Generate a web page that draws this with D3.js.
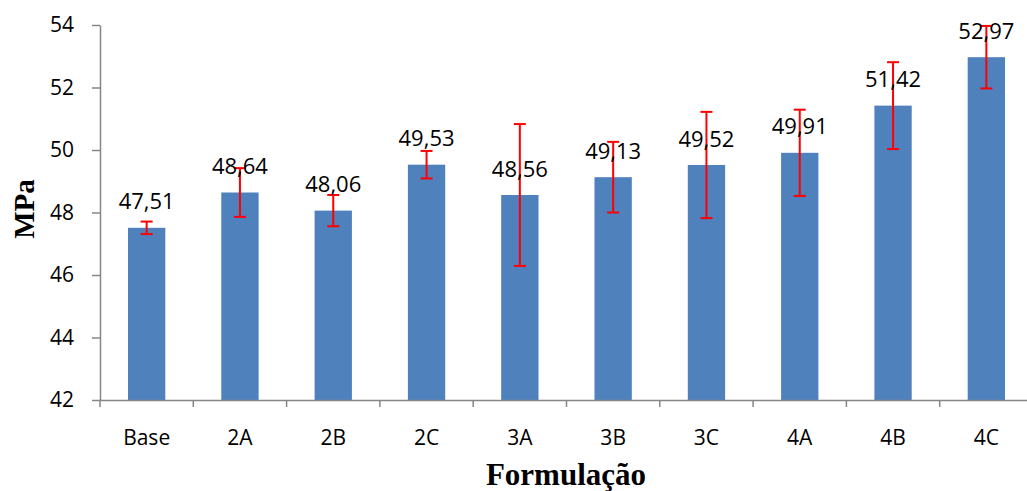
<!DOCTYPE html>
<html>
<head>
<meta charset="utf-8">
<script src="https://d3js.org/d3.v7.min.js"></script>
<style>
  html, body { margin: 0; padding: 0; background: #fff; }
  svg { display: block; }
</style>
</head>
<body>
<svg id="chart" width="1027" height="491"></svg>
<script>
const categories = ["Base", "2A", "2B", "2C", "3A", "3B", "3C", "4A", "4B", "4C"];
const values = [47.51, 48.64, 48.06, 49.53, 48.56, 49.13, 49.52, 49.91, 51.42, 52.97];
const errors = [0.20, 0.78, 0.50, 0.44, 2.27, 1.13, 1.70, 1.38, 1.39, 1.00];
const valueLabels = ["47,51", "48,64", "48,06", "49,53", "48,56", "49,13", "49,52", "49,91", "51,42", "52,97"];
const yTicks = [42, 44, 46, 48, 50, 52, 54];
const yTitle = "MPa";
const xTitle = "Formulação";

const svg = d3.select("#chart");
const plotLeft = 100, plotRight = 1033, plotTop = 25, plotBottom = 400;
const axisColor = "#868686";
const sans = "'Open Sans', sans-serif";
const serif = "'Liberation Serif', 'Times New Roman', serif";

const x = d3.scaleBand().domain(categories).range([plotLeft, plotRight]).paddingInner(0.6).paddingOuter(0.3);
const xb = d3.scaleBand().domain(categories).range([plotLeft, plotRight]);
const y = d3.scaleLinear().domain([42, 54]).range([plotBottom, plotTop]);

// bars
svg.append("g").selectAll("rect").data(categories).join("rect")
  .attr("x", (d) => x(d))
  .attr("width", x.bandwidth())
  .attr("y", (d, i) => y(values[i]))
  .attr("height", (d, i) => y(42) - y(values[i]))
  .attr("fill", "#4F81BD");

// y axis
const yAxis = svg.append("g").attr("transform", `translate(${plotLeft},0)`)
  .call(d3.axisLeft(y).tickValues(yTicks).tickSize(8).tickSizeOuter(0).tickPadding(18).tickFormat(d3.format("d")));
yAxis.select(".domain").attr("stroke", axisColor).attr("stroke-width", 1.5);
yAxis.selectAll(".tick line").attr("stroke", axisColor).attr("stroke-width", 1.5);
yAxis.selectAll(".tick text").attr("font-family", sans).attr("font-size", 21).attr("fill", "#000");

// x axis
const xAxis = svg.append("g").attr("transform", `translate(0,${plotBottom})`)
  .call(d3.axisBottom(xb).tickSize(0).tickSizeOuter(0).tickPadding(30));
xAxis.select(".domain").attr("stroke", axisColor).attr("stroke-width", 1.5);
xAxis.selectAll(".tick text").attr("font-family", sans).attr("font-size", 21).attr("fill", "#000");
// category boundary ticks
svg.append("g").selectAll("line").data(categories).join("line")
  .attr("x1", (d) => xb(d)).attr("x2", (d) => xb(d))
  .attr("y1", plotBottom).attr("y2", plotBottom + 7)
  .attr("stroke", axisColor).attr("stroke-width", 1.5);

// error bars
const eb = svg.append("g").attr("stroke", "#FF0000").attr("stroke-width", 2);
categories.forEach((c, i) => {
  const cx = x(c) + x.bandwidth() / 2;
  const yt = y(values[i] + errors[i]), ybt = y(values[i] - errors[i]);
  eb.append("line").attr("x1", cx).attr("x2", cx).attr("y1", yt).attr("y2", ybt);
  eb.append("line").attr("x1", cx - 6).attr("x2", cx + 6).attr("y1", yt).attr("y2", yt);
  eb.append("line").attr("x1", cx - 6).attr("x2", cx + 6).attr("y1", ybt).attr("y2", ybt);
});

// value labels
svg.append("g").selectAll("text").data(categories).join("text")
  .attr("x", (d) => x(d) + x.bandwidth() / 2)
  .attr("y", (d, i) => y(values[i]) - 18.5)
  .attr("text-anchor", "middle")
  .attr("font-family", sans).attr("font-size", 22).attr("fill", "#000")
  .text((d, i) => valueLabels[i]);

// titles
svg.append("text")
  .attr("transform", `translate(34,209) rotate(-90)`)
  .attr("text-anchor", "middle")
  .attr("font-family", serif).attr("font-weight", "bold").attr("font-size", 29)
  .text(yTitle);
svg.append("text")
  .attr("x", 566).attr("y", 485)
  .attr("text-anchor", "middle")
  .attr("font-family", serif).attr("font-weight", "bold").attr("font-size", 31)
  .text(xTitle);
</script>
</body>
</html>
